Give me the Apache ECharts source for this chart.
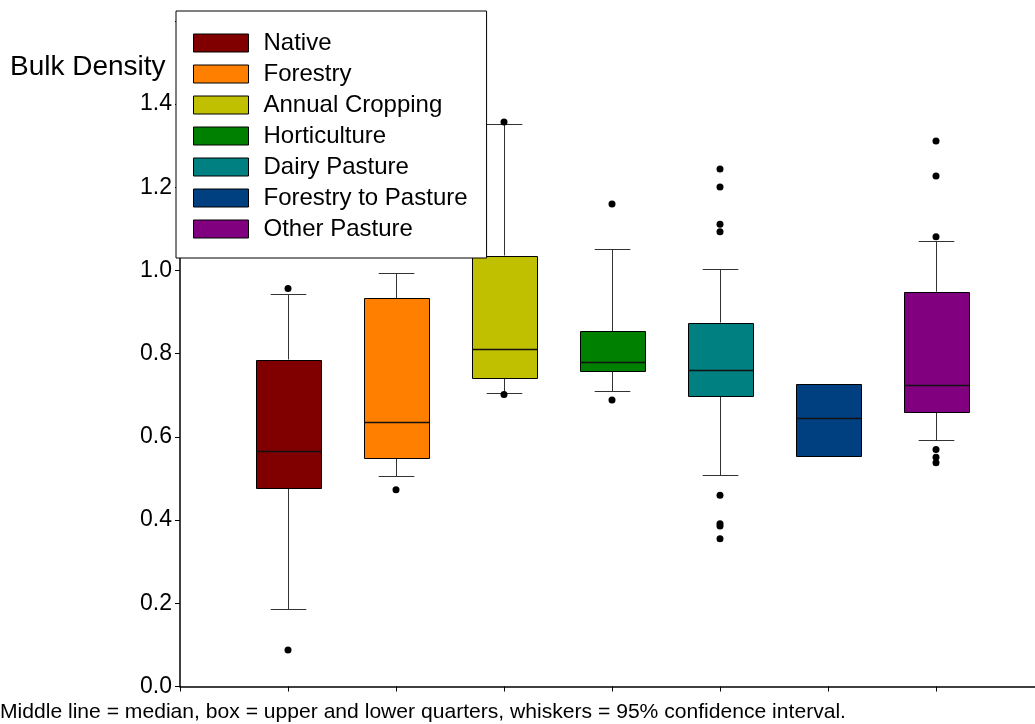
<!DOCTYPE html>
<html>
<head>
<meta charset="utf-8">
<script src="https://cdn.jsdelivr.net/npm/echarts@6/dist/echarts.min.js"></script>
<style>
html,body{margin:0;padding:0;background:#fff;}
#chart{width:1035px;height:724px;}
</style>
</head>
<body>
<div id="chart"></div>
<script>
const categories = ['Native','Forestry','Annual Cropping','Horticulture','Dairy Pasture','Forestry to Pasture','Other Pasture'];
const colors = ['#800000','#FF8000','#C0C000','#008000','#008080','#004080','#800080'];
const lowerWhisker = [0.186, 0.507, 0.705, 0.710, 0.509, null, 0.593];
const q1 =           [0.477, 0.550, 0.741, 0.758, 0.699, 0.555, 0.659];
const median =       [0.567, 0.637, 0.812, 0.779, 0.760, 0.646, 0.725];
const q3 =           [0.786, 0.933, 1.036, 0.854, 0.875, 0.726, 0.949];
const upperWhisker = [0.944, 0.993, 1.351, 1.052, 1.003, null, 1.071];
const outliers = [
  [0.957, 0.088],
  [0.473],
  [1.357, 0.702],
  [1.160, 0.689],
  [1.244, 1.201, 1.111, 1.093, 0.460, 0.391, 0.386, 0.355],
  [],
  [1.311, 1.227, 1.081, 0.570, 0.551, 0.538]
];
const yTickValues = [0, 0.2, 0.4, 0.6, 0.8, 1.0, 1.2, 1.4];
const yAxisTitle = 'Bulk Density';
const footnote = 'Middle line = median, box = upper and lower quarters, whiskers = 95% confidence interval.';

const FONT = '"Liberation Sans", Arial, sans-serif';

function renderBox(params, api) {
  const x = api.value(0);
  const lw = api.value(1), b1 = api.value(2), md = api.value(3), b3 = api.value(4), uw = api.value(5);
  const unit = api.size([1, 0])[0];
  const bw = unit * 0.6, cw = unit * 0.33;
  const pQ1 = api.coord([x, b1]);
  const pQ3 = api.coord([x, b3]);
  const pMd = api.coord([x, md]);
  const cx = Math.round(pQ1[0]) + 0.5;
  const children = [];
  const wStyle = {stroke: '#333', lineWidth: 1};
  if (uw > 0) {
    const pU = api.coord([x, uw]);
    const yU = Math.round(pU[1]) + 0.5;
    children.push({type: 'line', shape: {x1: cx, y1: yU, x2: cx, y2: pQ3[1]}, style: wStyle});
    children.push({type: 'line', shape: {x1: cx - cw / 2, y1: yU, x2: cx + cw / 2, y2: yU}, style: wStyle});
  }
  if (lw > 0) {
    const pL = api.coord([x, lw]);
    const yL = Math.round(pL[1]) + 0.5;
    children.push({type: 'line', shape: {x1: cx, y1: pQ1[1], x2: cx, y2: yL}, style: wStyle});
    children.push({type: 'line', shape: {x1: cx - cw / 2, y1: yL, x2: cx + cw / 2, y2: yL}, style: wStyle});
  }
  const top = Math.round(pQ3[1]) + 0.5, bot = Math.round(pQ1[1]) + 0.5;
  const left = Math.round(cx - bw / 2) + 0.5, w = Math.round(bw);
  children.push({type: 'rect', shape: {x: left, y: top, width: w, height: bot - top},
    style: {fill: api.visual('color'), stroke: '#000', lineWidth: 1}});
  const ym = Math.round(pMd[1]) + 0.5;
  children.push({type: 'line', shape: {x1: left, y1: ym, x2: left + w, y2: ym},
    style: {stroke: '#111', lineWidth: 1.3}});
  return {type: 'group', children: children};
}

const series = [];
categories.forEach(function (name, i) {
  series.push({
    name: name,
    type: 'custom',
    renderItem: renderBox,
    itemStyle: {color: colors[i], borderColor: '#000', borderWidth: 1},
    encode: {x: 0, y: [1, 2, 3, 4, 5]},
    data: [[i + 1, lowerWhisker[i] == null ? 0 : lowerWhisker[i], q1[i], median[i], q3[i], upperWhisker[i] == null ? 0 : upperWhisker[i]]],
    z: 2
  });
});
const outlierData = [];
outliers.forEach(function (arr, i) { arr.forEach(function (v) { outlierData.push([i + 1, v]); }); });
series.push({
  name: 'outliers',
  type: 'scatter',
  symbol: 'circle',
  symbolSize: 7,
  itemStyle: {color: '#000', opacity: 1},
  data: outlierData,
  z: 3,
  silent: true
});

const chart = echarts.init(document.getElementById('chart'), null, {renderer: 'canvas'});
chart.setOption({
  animation: false,
  backgroundColor: '#fff',
  textStyle: {fontFamily: FONT},
  grid: {left: 180, right: -9, top: 20.9, bottom: 37.5, outerBoundsMode: 'none', containLabel: false},
  xAxis: {
    type: 'value', min: 0, max: 8, interval: 1,
    axisLine: {show: true, lineStyle: {color: '#000', width: 1.5}},
    axisTick: {show: true, length: 5, lineStyle: {color: '#000', width: 1}},
    axisLabel: {show: false},
    splitLine: {show: false}
  },
  yAxis: {
    type: 'value', min: 0, max: 1.6, interval: 0.2,
    axisLine: {show: true, lineStyle: {color: '#000', width: 1.5}},
    axisTick: {show: true, length: 5, lineStyle: {color: '#000', width: 1}},
    axisLabel: {
      color: '#000', fontSize: 23, fontFamily: FONT, margin: 8,
      formatter: function (v) {
        return yTickValues.some(function (t) { return Math.abs(t - v) < 1e-6; }) ? v.toFixed(1) : '';
      }
    },
    splitLine: {show: false}
  },
  legend: {
    data: categories,
    orient: 'vertical',
    left: 176, top: 11,
    icon: 'rect',
    itemWidth: 55, itemHeight: 18, itemGap: 7,
    padding: [20, 19, 17, 17],
    backgroundColor: '#fff',
    borderColor: '#000', borderWidth: 1,
    itemStyle: {borderColor: '#000', borderWidth: 1},
    textStyle: {color: '#000', fontSize: 24, fontFamily: FONT, padding: [0, 0, 0, 10]},
    selectedMode: false,
    z: 10
  },
  graphic: [
    {type: 'text', left: 10, top: 53, style: {text: yAxisTitle, fill: '#000', font: '28px ' + FONT}},
    {type: 'text', left: 0, top: 701.5, style: {text: footnote, fill: '#000', font: '21.1px ' + FONT}}
  ],
  series: series
});
</script>
</body>
</html>
